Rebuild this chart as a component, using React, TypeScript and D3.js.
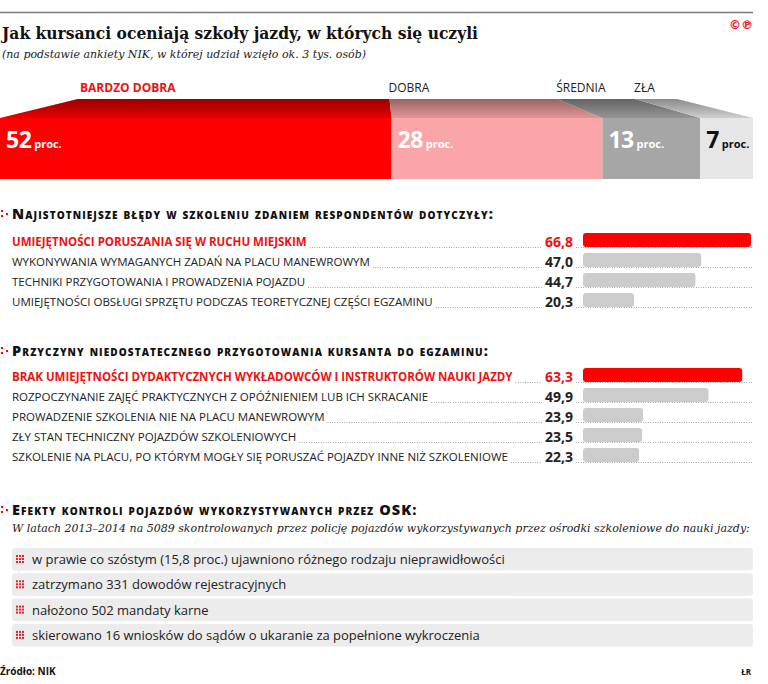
import React, { useEffect, useRef } from "react";
import * as d3 from "d3";

const ratingCategories = ["BARDZO DOBRA", "DOBRA", "ŚREDNIA", "ZŁA"];
const ratingValues = [52, 28, 13, 7];
const ratingColors = ["#ff0000", "#faa6a8", "#a6a6a6", "#e6e6e6"];
const ratingTextColors = ["#ffffff", "#ffffff", "#ffffff", "#111111"];
const ratingLabelColors = ["#ee1111", "#222222", "#222222", "#222222"];

const errorLabels = [
  "UMIEJĘTNOŚCI PORUSZANIA SIĘ W RUCHU MIEJSKIM",
  "WYKONYWANIA WYMAGANYCH ZADAŃ NA PLACU MANEWROWYM",
  "TECHNIKI PRZYGOTOWANIA I PROWADZENIA POJAZDU",
  "UMIEJĘTNOŚCI OBSŁUGI SPRZĘTU PODCZAS TEORETYCZNEJ CZĘŚCI EGZAMINU",
];
const errorValues = [66.8, 47.0, 44.7, 20.3];

const reasonLabels = [
  "BRAK UMIEJĘTNOŚCI DYDAKTYCZNYCH WYKŁADOWCÓW I INSTRUKTORÓW NAUKI JAZDY",
  "ROZPOCZYNANIE ZAJĘĆ PRAKTYCZNYCH Z OPÓŹNIENIEM LUB ICH SKRACANIE",
  "PROWADZENIE SZKOLENIA NIE NA PLACU MANEWROWYM",
  "ZŁY STAN TECHNICZNY POJAZDÓW SZKOLENIOWYCH",
  "SZKOLENIE NA PLACU, PO KTÓRYM MOGŁY SIĘ PORUSZAĆ POJAZDY INNE NIŻ SZKOLENIOWE",
];
const reasonValues = [63.3, 49.9, 23.9, 23.5, 22.3];

const effectItems = [
  "w prawie co szóstym (15,8 proc.) ujawniono różnego rodzaju nieprawidłowości",
  "zatrzymano 331 dowodów rejestracyjnych",
  "nałożono 502 mandaty karne",
  "skierowano 16 wniosków do sądów o ukaranie za popełnione wykroczenia",
];

const titleText = "Jak kursanci oceniają szkoły jazdy, w których się uczyli";
const subtitleText = "(na podstawie ankiety NIK, w której udział wzięło ok. 3 tys. osób)";
const header1 = "Najistotniejsze błędy w szkoleniu zdaniem respondentów dotyczyły:";
const header2 = "Przyczyny niedostatecznego przygotowania kursanta do egzaminu:";
const header3 = "Efekty kontroli pojazdów wykorzystywanych przez OSK:";
const effectsIntro =
  "W latach 2013–2014 na 5089 skontrolowanych przez policję pojazdów wykorzystywanych przez ośrodki szkoleniowe do nauki jazdy:";
const sourceText = "Źródło: NIK";
const authorText = "ŁR";

const W = 768;
const H = 684;
const SANS = "'Open Sans', 'DejaVu Sans', sans-serif";
const SERIF = "'DejaVu Serif', 'Liberation Serif', serif";
const RED = "#ff0000";

export default function App() {
  const ref = useRef<SVGSVGElement | null>(null);

  useEffect(() => {
    const svg = d3.select(ref.current);
    svg.selectAll("*").remove();

    const defs = svg.append("defs");
    const grad = defs
      .append("linearGradient")
      .attr("id", "topShade")
      .attr("x1", 0)
      .attr("y1", 0)
      .attr("x2", 0)
      .attr("y2", 1);
    grad.append("stop").attr("offset", "0%").attr("stop-color", "#000").attr("stop-opacity", 0.4);
    grad.append("stop").attr("offset", "100%").attr("stop-color", "#000").attr("stop-opacity", 0.1);

    // top rule
    svg.append("line").attr("x1", 0).attr("x2", 753).attr("y1", 12.5).attr("y2", 12.5)
      .attr("stroke", "#7a7a7a").attr("stroke-width", 1.5);

    // title
    svg.append("text").attr("x", 2).attr("y", 39).text(titleText)
      .attr("font-family", SERIF).attr("font-weight", 700).attr("font-size", 16)
      .attr("fill", "#111").attr("textLength", 476).attr("lengthAdjust", "spacingAndGlyphs");
    svg.append("text").attr("x", 2).attr("y", 58).text(subtitleText)
      .attr("font-family", SERIF).attr("font-style", "italic").attr("font-size", 11.5)
      .attr("fill", "#222").attr("textLength", 364).attr("lengthAdjust", "spacingAndGlyphs");
    svg.append("text").attr("x", 753).attr("y", 29).attr("text-anchor", "end").text("©℗")
      .attr("font-family", "'DejaVu Sans', sans-serif").attr("font-weight", 700)
      .attr("font-size", 12).attr("fill", "#e21a1a");

    // stacked 3D bar
    const front = d3.scaleLinear().domain([0, 100]).range([0, 753]);
    const back = d3.scaleLinear().domain([0, 100]).range([78, 677]);
    const yTop = 99;
    const yFront = 118;
    const yBottom = 179;
    const cum = d3.cumsum(ratingValues);
    const starts = ratingValues.map((v, i) => cum[i] - v);

    const g = svg.append("g");
    ratingValues.forEach((v, i) => {
      const s = starts[i];
      const e = cum[i];
      g.append("rect").attr("x", front(s)).attr("y", yFront)
        .attr("width", front(e) - front(s)).attr("height", yBottom - yFront)
        .attr("fill", ratingColors[i]);
      const pts: [number, number][] = [
        [front(s), yFront],
        [back(s), yTop],
        [back(e), yTop],
        [front(e), yFront],
      ];
      const line = d3.line();
      g.append("path").attr("d", line(pts) + "Z").attr("fill", ratingColors[i]);
      g.append("path").attr("d", line(pts) + "Z").attr("fill", "url(#topShade)");
      svg.append("text").attr("x", back(s) + (i === 0 ? 2 : -1)).attr("y", 92)
        .text(ratingCategories[i]).attr("font-family", SANS)
        .attr("font-weight", i === 0 ? 700 : 400).attr("font-size", 12)
        .attr("fill", ratingLabelColors[i]);
      const t = g.append("text").attr("x", front(s) + 6).attr("y", 148)
        .attr("font-family", SANS).attr("fill", ratingTextColors[i]);
      t.append("tspan").text(String(v)).attr("font-size", 23).attr("font-weight", 700)
        .attr("letter-spacing", -0.5);
      t.append("tspan").text(" proc.").attr("font-size", 11).attr("font-weight", 700);
    });

    const fmt = (v: number) => d3.format(".1f")(v).replace(".", ",");
    const xBar = d3.scaleLinear().domain([0, 66.8]).range([583, 751]);

    const header = (text: string, y: number) => {
      svg.append("rect").attr("x", 1).attr("y", y - 9).attr("width", 2).attr("height", 2).attr("fill", RED);
      svg.append("rect").attr("x", 1).attr("y", y - 4).attr("width", 2).attr("height", 2).attr("fill", RED);
      svg.append("rect").attr("x", 6).attr("y", y - 6).attr("width", 2).attr("height", 2).attr("fill", RED);
      svg.append("text").attr("x", 12).attr("y", y).text(text)
        .attr("font-family", SANS).attr("font-weight", 800).attr("font-size", 14.5)
        .attr("letter-spacing", 1.1)
        .style("font-variant", "small-caps").attr("fill", "#111");
    };

    const section = (labels: string[], values: number[], y0: number) => {
      labels.forEach((lab, i) => {
        const y = y0 + i * 20;
        const hl = i === 0;
        const color = hl ? "#ee1111" : "#222";
        const lt = svg.append("text").attr("x", 12).attr("y", y - 1).text(lab)
          .attr("font-family", SANS).attr("font-size", 11.5)
          .attr("font-weight", hl ? 700 : 400).attr("fill", color);
        const vt = svg.append("text").attr("x", 573).attr("y", y).attr("text-anchor", "end")
          .text(fmt(values[i])).attr("font-family", SANS).attr("font-size", 14)
          .attr("font-weight", 700).attr("fill", color);
        const lw = (lt.node() as SVGTextElement).getComputedTextLength();
        const vw = (vt.node() as SVGTextElement).getComputedTextLength();
        const dot = (x1: number, x2: number) =>
          svg.append("line").attr("x1", x1).attr("x2", x2).attr("y1", y + 0.5).attr("y2", y + 0.5)
            .attr("stroke", "#777").attr("stroke-width", 0.8).attr("stroke-dasharray", "0.8,1.6");
        dot(12 + lw + 3, 573 - vw - 3);
        dot(576, 753);
        svg.append("rect").attr("x", xBar(0)).attr("y", y - 14)
          .attr("width", xBar(values[i]) - xBar(0)).attr("height", 14)
          .attr("rx", 3).attr("fill", hl ? RED : "#cccccc");
      });
    };

    header(header1, 219);
    section(errorLabels, errorValues, 247);
    header(header2, 356);
    section(reasonLabels, reasonValues, 382);
    header(header3, 515);

    svg.append("text").attr("x", 12).attr("y", 532).text(effectsIntro)
      .attr("font-family", SERIF).attr("font-style", "italic").attr("font-size", 11)
      .attr("fill", "#222");

    effectItems.forEach((txt, i) => {
      const y = 548 + i * 25.3;
      svg.append("rect").attr("x", 12).attr("y", y).attr("width", 741).attr("height", 22.5)
        .attr("rx", 3).attr("fill", "#ececec");
      for (let r = 0; r < 3; r++) {
        for (let c = 0; c < 3; c++) {
          svg.append("rect").attr("x", 16 + c * 3).attr("y", y + 7 + r * 3)
            .attr("width", 2).attr("height", 2).attr("fill", "#e8202a");
        }
      }
      svg.append("text").attr("x", 32).attr("y", y + 16).text(txt)
        .attr("font-family", SANS).attr("font-size", 13).attr("fill", "#222");
    });

    svg.append("text").attr("x", 0).attr("y", 675).text(sourceText)
      .attr("font-family", SANS).attr("font-weight", 700).attr("font-size", 10).attr("fill", "#111");
    svg.append("text").attr("x", 751).attr("y", 675).attr("text-anchor", "end").text(authorText)
      .attr("font-family", SANS).attr("font-weight", 700).attr("font-size", 8).attr("fill", "#111");
  }, []);

  return (
    <svg
      ref={ref}
      width={W}
      height={H}
      viewBox={`0 0 ${W} ${H}`}
      style={{ position: "absolute", left: 0, top: 0, background: "#fff" }}
    />
  );
}
